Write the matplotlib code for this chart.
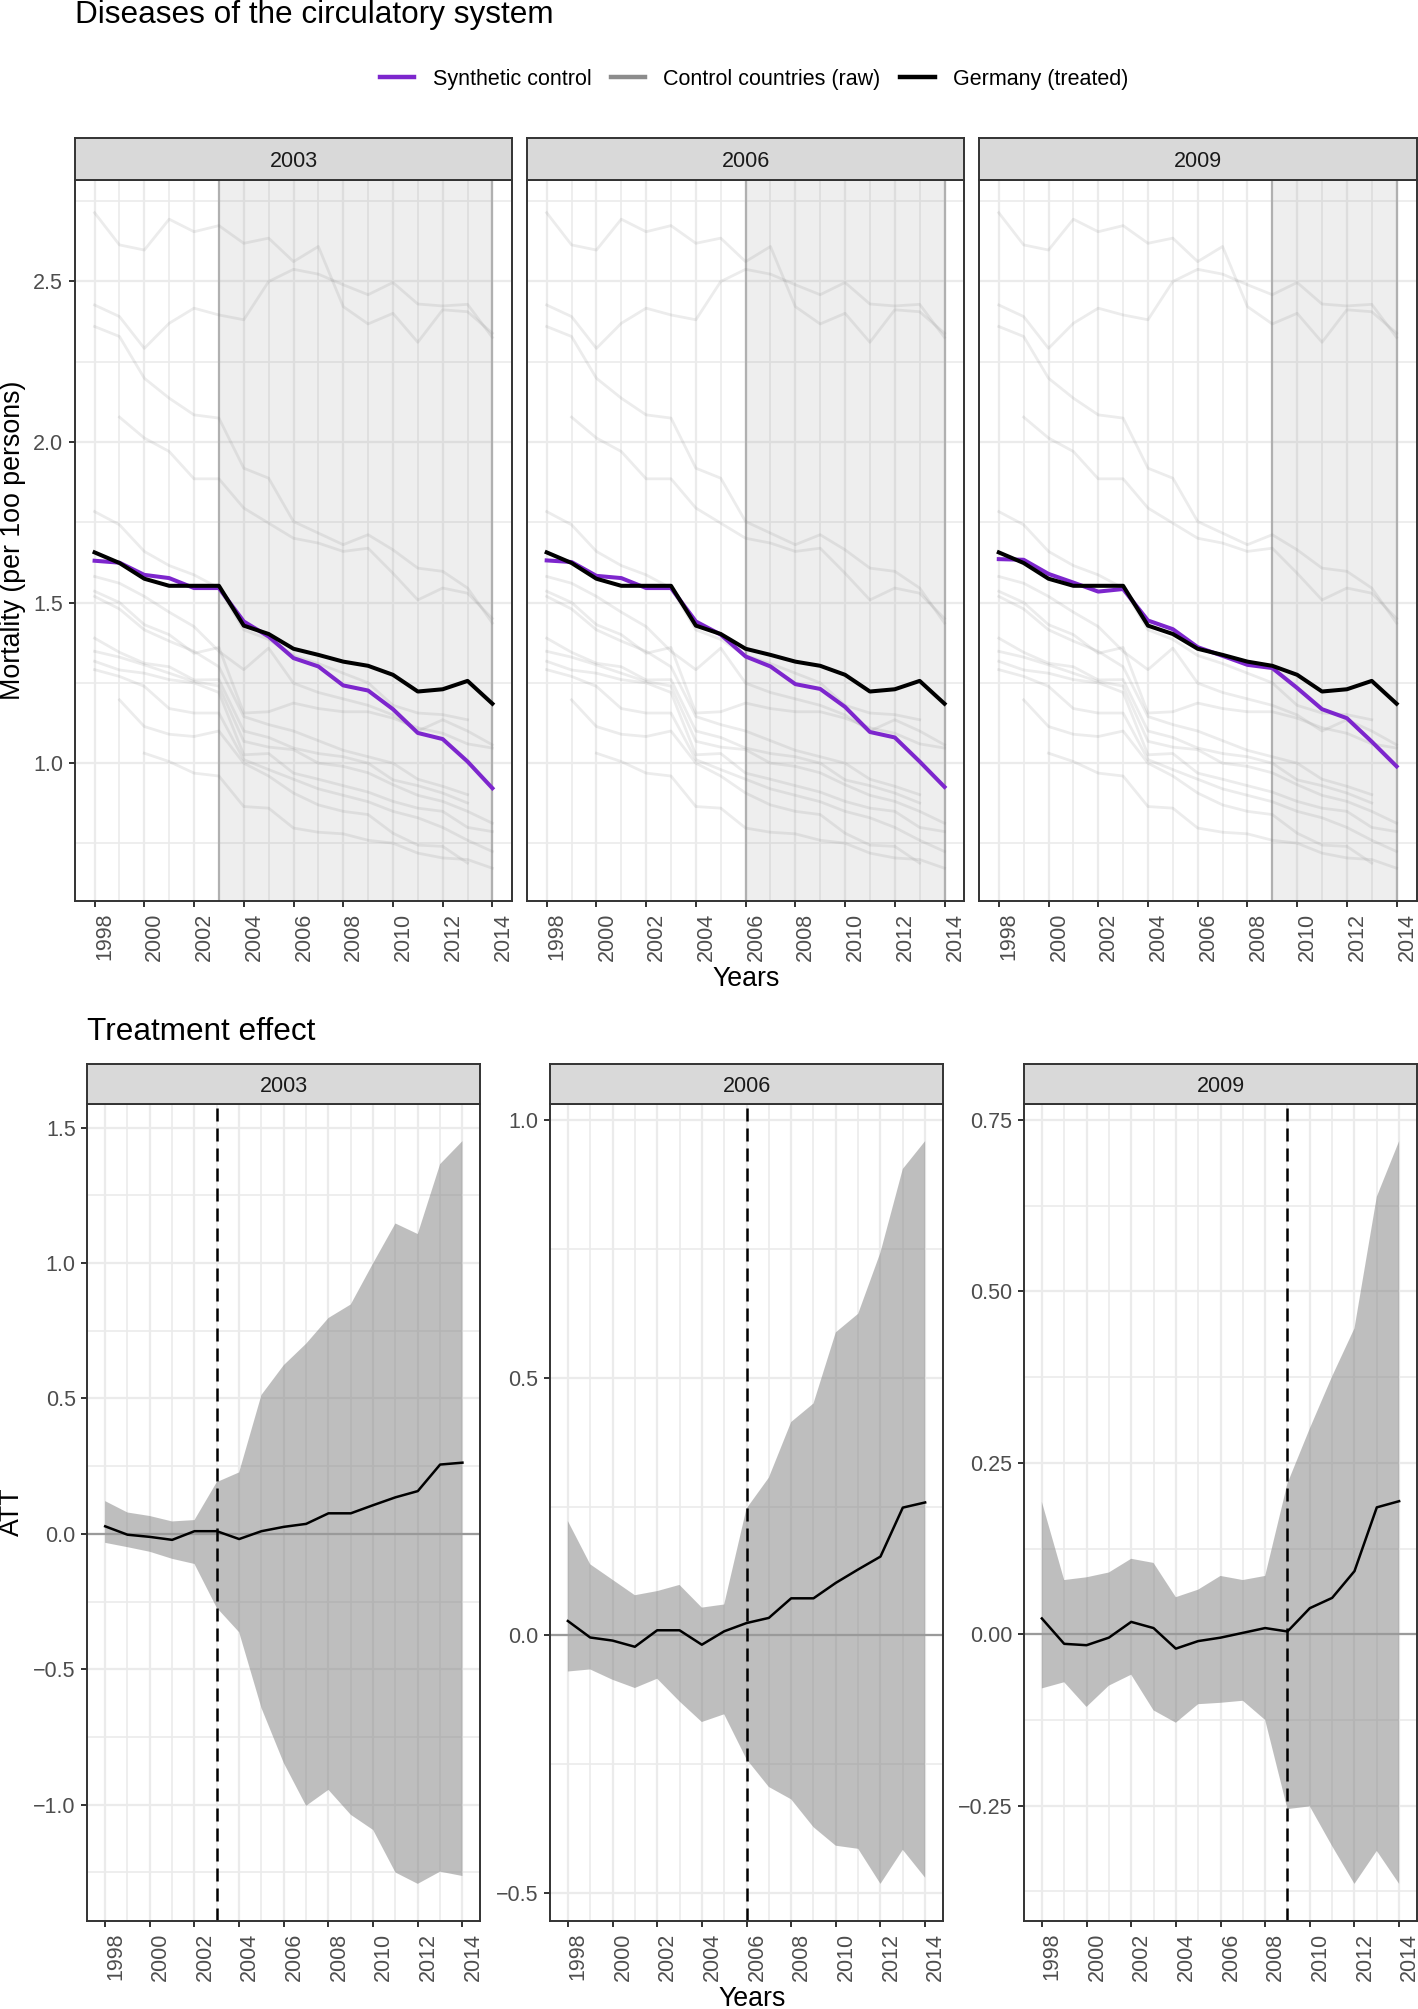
import numpy as np
import matplotlib
matplotlib.use('Agg')
import matplotlib.pyplot as plt
from matplotlib.lines import Line2D

plt.rcParams['font.family'] = ['Liberation Sans', 'DejaVu Sans']

nan = np.nan
years = list(range(1998, 2015))
treat_years = [2003, 2006, 2009]

germany = [1.656, 1.623, 1.574, 1.552, 1.552, 1.552, 1.428, 1.402, 1.356, 1.337, 1.316, 1.303, 1.275, 1.223, 1.230, 1.256, 1.185]
synth_2003 = [1.630, 1.624, 1.586, 1.576, 1.545, 1.545, 1.441, 1.394, 1.327, 1.301, 1.242, 1.226, 1.168, 1.094, 1.075, 1.005, 0.922]
synth_2006 = [1.631, 1.626, 1.583, 1.576, 1.545, 1.545, 1.441, 1.400, 1.332, 1.301, 1.246, 1.231, 1.175, 1.097, 1.080, 1.005, 0.926]
synth_2009 = [1.635, 1.633, 1.589, 1.562, 1.534, 1.542, 1.444, 1.417, 1.361, 1.334, 1.306, 1.296, 1.234, 1.168, 1.140, 1.067, 0.990]

ctrl_a = [2.713, 2.613, 2.597, 2.693, 2.654, 2.673, 2.618, 2.634, 2.561, 2.608, 2.421, 2.367, 2.400, 2.310, 2.411, 2.405, 2.338]
ctrl_b = [2.426, 2.390, 2.291, 2.369, 2.416, 2.395, 2.380, 2.499, 2.537, 2.522, 2.489, 2.458, 2.496, 2.429, 2.423, 2.428, 2.325]
ctrl_c = [2.359, 2.328, 2.198, 2.136, 2.084, 2.074, 1.918, 1.887, 1.752, 1.716, 1.680, 1.711, 1.664, 1.607, 1.597, 1.545, 1.436]
ctrl_d = [nan, 2.077, 2.012, 1.970, 1.885, 1.885, 1.794, 1.747, 1.700, 1.685, 1.659, 1.669, 1.591, 1.508, 1.545, 1.529, 1.450]
ctrl_e = [1.783, 1.742, 1.659, 1.615, 1.586, 1.545, 1.415, 1.385, 1.335, 1.310, 1.280, 1.250, 1.180, 1.156, 1.151, 1.135, nan]
ctrl_f = [1.581, 1.560, 1.519, 1.470, 1.425, 1.348, 1.291, 1.358, 1.249, 1.220, 1.200, 1.180, 1.150, 1.100, 1.135, 1.100, 1.057]
ctrl_g = [1.535, 1.500, 1.431, 1.400, 1.342, 1.360, 1.156, 1.160, 1.187, 1.170, 1.160, 1.160, 1.140, 1.110, 1.093, 1.060, 1.047]
ctrl_h = [1.519, 1.480, 1.415, 1.380, 1.348, 1.300, 1.145, 1.120, 1.100, 1.070, 1.040, 1.020, 1.000, 0.950, 0.928, 0.902, nan]
ctrl_i = [1.389, 1.345, 1.311, 1.300, 1.259, 1.260, 1.100, 1.080, 1.047, 1.030, 1.020, 1.000, 0.948, 0.930, 0.907, 0.876, nan]
ctrl_j = [1.348, 1.330, 1.306, 1.280, 1.254, 1.240, 1.068, 1.050, 1.042, 1.000, 0.990, 0.970, 0.933, 0.900, 0.881, 0.850, 0.813]
ctrl_k = [1.317, 1.290, 1.280, 1.260, 1.250, 1.220, 1.026, 1.030, 0.969, 0.950, 0.930, 0.910, 0.881, 0.860, 0.850, 0.800, 0.787]
ctrl_l = [1.291, 1.270, 1.239, 1.170, 1.156, 1.156, 1.011, 0.980, 0.950, 0.920, 0.900, 0.880, 0.850, 0.830, 0.800, 0.760, 0.725]
ctrl_m = [nan, 1.197, 1.114, 1.090, 1.083, 1.100, 1.000, 0.960, 0.907, 0.870, 0.850, 0.840, 0.782, 0.745, 0.741, 0.689, nan]
ctrl_n = [nan, nan, 1.031, 1.005, 0.969, 0.960, 0.865, 0.860, 0.798, 0.785, 0.780, 0.760, 0.751, 0.720, 0.705, 0.700, 0.673]
controls = [ctrl_a, ctrl_b, ctrl_c, ctrl_d, ctrl_e, ctrl_f, ctrl_g, ctrl_h,
            ctrl_i, ctrl_j, ctrl_k, ctrl_l, ctrl_m, ctrl_n]

att_2003 = [0.028, -0.003, -0.011, -0.022, 0.010, 0.010, -0.019, 0.010, 0.026, 0.037, 0.076, 0.076, 0.106, 0.135, 0.158, 0.256, 0.263]
upper_2003 = [0.121, 0.079, 0.066, 0.046, 0.051, 0.191, 0.227, 0.513, 0.623, 0.702, 0.797, 0.847, 0.999, 1.146, 1.107, 1.365, 1.450]
lower_2003 = [-0.033, -0.049, -0.066, -0.092, -0.111, -0.273, -0.363, -0.643, -0.846, -1.004, -0.945, -1.037, -1.093, -1.250, -1.292, -1.247, -1.263]

att_2006 = [0.028, -0.004, -0.010, -0.022, 0.010, 0.010, -0.018, 0.008, 0.024, 0.034, 0.072, 0.072, 0.102, 0.128, 0.153, 0.248, 0.258]
upper_2006 = [0.222, 0.138, 0.108, 0.078, 0.086, 0.098, 0.054, 0.060, 0.246, 0.306, 0.414, 0.450, 0.588, 0.624, 0.743, 0.905, 0.959]
lower_2006 = [-0.070, -0.066, -0.086, -0.102, -0.084, -0.128, -0.168, -0.153, -0.240, -0.294, -0.318, -0.372, -0.408, -0.414, -0.482, -0.416, -0.470]

att_2009 = [0.023, -0.014, -0.016, -0.005, 0.018, 0.009, -0.021, -0.010, -0.005, 0.002, 0.009, 0.004, 0.038, 0.053, 0.092, 0.185, 0.194]
upper_2009 = [0.193, 0.079, 0.083, 0.090, 0.110, 0.104, 0.054, 0.065, 0.085, 0.079, 0.085, 0.220, 0.300, 0.376, 0.446, 0.638, 0.719]
lower_2009 = [-0.079, -0.070, -0.106, -0.075, -0.059, -0.111, -0.129, -0.102, -0.100, -0.097, -0.125, -0.255, -0.251, -0.309, -0.364, -0.316, -0.364]

synths = [synth_2003, synth_2006, synth_2009]
atts = [att_2003, att_2006, att_2009]
uppers = [upper_2003, upper_2006, upper_2009]
lowers = [lower_2003, lower_2006, lower_2009]

top_major = [1.0, 1.5, 2.0, 2.5]
top_minor = [0.75, 1.25, 1.75, 2.25, 2.75]
low_major = [[-1.0, -0.5, 0.0, 0.5, 1.0, 1.5], [-0.5, 0.0, 0.5, 1.0], [-0.25, 0.0, 0.25, 0.5, 0.75]]
low_minor = [[-1.25, -0.75, -0.25, 0.25, 0.75, 1.25], [-0.25, 0.25, 0.75], [-0.375, -0.125, 0.125, 0.375, 0.625]]
low_labels = [["\u22121.0", "\u22120.5", "0.0", "0.5", "1.0", "1.5"],
              ["\u22120.5", "0.0", "0.5", "1.0"],
              ["\u22120.25", "0.00", "0.25", "0.50", "0.75"]]

W, H = 1418, 2009
fig = plt.figure(figsize=(W / 100, H / 100), dpi=100)
fig.patch.set_facecolor('white')


def rect(x0, ytop, w, h):
    return [x0 / W, 1 - (ytop + h) / H, w / W, h / H]


TICK = 15.5
BORDER = '#333333'
GRID = '#EBEBEB'


def expand(lo, hi, f=0.05):
    r = hi - lo
    return lo - f * r, hi + f * r


def style_panel(ax):
    for s in ax.spines.values():
        s.set_color(BORDER)
        s.set_linewidth(1.4)
        s.set_zorder(10)
    ax.set_axisbelow(True)
    ax.set_xlim(*expand(1998, 2014))
    ax.set_xticks(list(range(1998, 2015, 2)))
    ax.set_xticks(list(range(1999, 2014, 2)), minor=True)
    ax.grid(True, which='major', color=GRID, lw=1.6)
    ax.grid(True, which='minor', color=GRID, lw=1.2)
    ax.tick_params(which='major', length=4.3, width=1.4, color=BORDER,
                   labelsize=TICK, labelcolor='#4D4D4D', pad=4)
    ax.tick_params(which='minor', length=0)
    for lab in ax.get_xticklabels():
        lab.set_rotation(90)
        lab.set_ha('left')
        lab.set_va('top')


def strip(x0, ytop, w, h, label):
    s = fig.add_axes(rect(x0, ytop, w, h))
    s.set_facecolor('#D9D9D9')
    s.set_xticks([])
    s.set_yticks([])
    for sp in s.spines.values():
        sp.set_color(BORDER)
        sp.set_linewidth(1.4)
    s.text(0.5, 0.45, label, ha='center', va='center', fontsize=TICK,
           color='#1A1A1A', transform=s.transAxes)


# ---------- top row ----------
all_vals = np.concatenate([np.array(c, dtype=float) for c in controls] +
                          [np.array(germany)] + [np.array(s) for s in synths])
ylo, yhi = expand(np.nanmin(all_vals), np.nanmax(all_vals))

top_x = [74.7, 526.8, 978.9]
top_w = 437.6
for i, ty in enumerate(treat_years):
    ax = fig.add_axes(rect(top_x[i], 180, top_w, 721))
    style_panel(ax)
    ax.set_ylim(ylo, yhi)
    ax.set_yticks(top_major)
    ax.set_yticks(top_minor, minor=True)
    ax.axvspan(ty, 2014, color='#808080', alpha=0.13, lw=0, zorder=1)
    ax.axvline(ty, color='#B0B0B0', lw=1.6, zorder=1.2)
    ax.axvline(2014, color='#B0B0B0', lw=1.6, zorder=1.2)
    for c in controls:
        ax.plot(years, c, color='#808080', alpha=0.15, lw=2.0, zorder=2,
                solid_joinstyle='round')
    ax.plot(years, synths[i], color='#7D26CD', lw=2.9, zorder=3)
    ax.plot(years, germany, color='black', lw=2.9, zorder=4)
    if i == 0:
        ax.set_yticklabels(['1.0', '1.5', '2.0', '2.5'])
    else:
        ax.tick_params(axis='y', which='both', length=0, labelleft=False)
    strip(top_x[i], 138.3, top_w, 41.7, str(ty))

fig.text(75 / W, 1 - 15 / H, 'Diseases of the circulatory system',
         fontsize=22.7, ha='left', va='center', color='black')
fig.text(13 / W, 1 - 540 / H, 'Mortality (per 1oo persons)', fontsize=19.3,
         rotation=90, ha='center', va='center')
fig.text(745.7 / W, 1 - 979 / H, 'Years', fontsize=19.3, ha='center', va='center')

handles = [Line2D([0], [0], color='#7D26CD', lw=3.2),
           Line2D([0], [0], color='#8C8C8C', lw=3.2),
           Line2D([0], [0], color='black', lw=3.2)]
fig.legend(handles, ['Synthetic control', 'Control countries (raw)', 'Germany (treated)'],
           loc='center', bbox_to_anchor=(754 / W, 1 - 79 / H), ncol=3,
           frameon=False, fontsize=15.5, handlelength=1.6, handletextpad=0.85,
           columnspacing=0.9)

# ---------- bottom row ----------
low_x = [87.3, 550.0, 1024.0]
low_w = 393.0
for i, ty in enumerate(treat_years):
    ax = fig.add_axes(rect(low_x[i], 1104, low_w, 817))
    style_panel(ax)
    lo = np.min(lowers[i])
    hi = np.max(uppers[i])
    ax.set_ylim(*expand(lo, hi))
    ax.set_yticks(low_major[i])
    ax.set_yticks(low_minor[i], minor=True)
    ax.set_yticklabels(low_labels[i])
    ax.fill_between(years, lowers[i], uppers[i], facecolor='#7F7F7F',
                    alpha=0.5, lw=0, zorder=2)
    ax.axhline(0, color='#9A9A9A', lw=1.6, zorder=3)
    ax.plot(years, atts[i], color='black', lw=1.8, zorder=4)
    ax.axvline(ty, color='black', lw=1.8, dashes=(5.2, 2.8), zorder=5)
    strip(low_x[i], 1064, low_w, 40, str(ty))

fig.text(87 / W, 1 - 1032 / H, 'Treatment effect', fontsize=22.7,
         ha='left', va='center')
fig.text(12 / W, 1 - 1512 / H, 'ATT', fontsize=19.3, rotation=90,
         ha='center', va='center')
fig.text(752 / W, 1 - 1986 / H, 'Years', fontsize=19.3, ha='center', va='top')

fig.savefig('out.png', dpi=100, facecolor='white')
